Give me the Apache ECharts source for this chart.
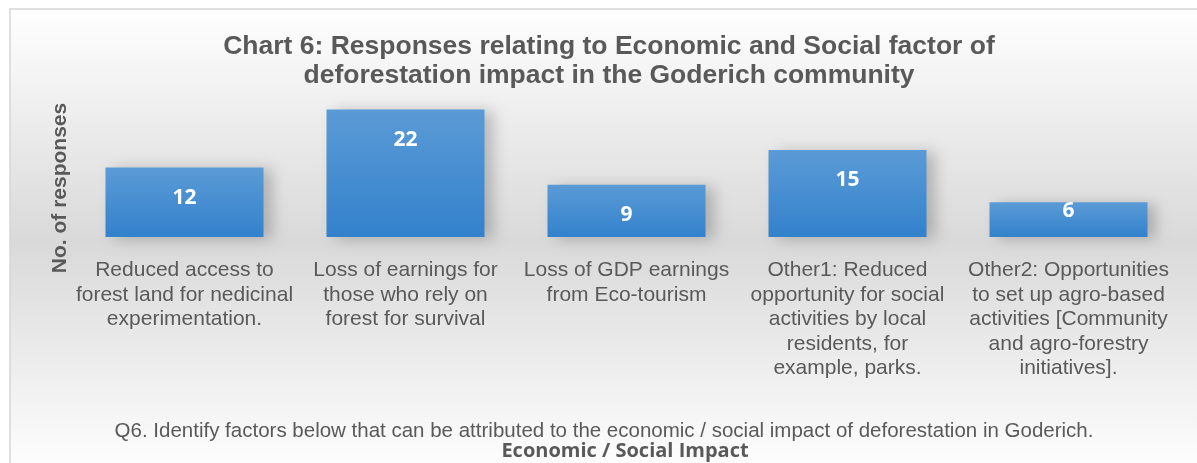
<!DOCTYPE html>
<html>
<head>
<meta charset="utf-8">
<script src="https://cdn.jsdelivr.net/npm/echarts@6/dist/echarts.min.js"></script>
<style>
html,body{margin:0;padding:0;background:#fff;}
#chart{width:1197px;height:463px;}
</style>
</head>
<body>
<div id="chart"></div>
<script>
// ---- data ----
var categoryLines = [
  ["Reduced access to", "forest land for nedicinal", "experimentation."],
  ["Loss of earnings for", "those who rely on", "forest for survival"],
  ["Loss of GDP earnings", "from Eco-tourism"],
  ["Other1: Reduced", "opportunity for social", "activities by local", "residents, for", "example, parks."],
  ["Other2: Opportunities", "to set up agro-based", "activities [Community", "and agro-forestry", "initiatives]."]
];
var responses = [12, 22, 9, 15, 6];
var titleLines = ["Chart 6: Responses relating to Economic and Social factor of",
                  "deforestation impact in the Goderich community"];
var yAxisTitle = "No. of responses";
var questionText = "Q6. Identify factors below that can be attributed to the economic / social impact of deforestation in Goderich.";
var xAxisTitle = "Economic / Social Impact";

var categories = categoryLines.map(function (l) { return l.join("\n"); });

var chart = echarts.init(document.getElementById('chart'), null, {renderer: 'canvas'});
var grey = '#595959';

var seriesData = responses.map(function (v, i) {
  var item = {value: v};
  if (i === 4) { item.label = {distance: -2}; }
  return item;
});

chart.setOption({
  animation: false,
  backgroundColor: '#ffffff',
  graphic: [
    {
      type: 'rect', z: -10, silent: true,
      shape: {x: 10, y: 9, width: 1195, height: 465},
      style: {
        fill: new echarts.graphic.LinearGradient(0, 0, 0, 1, [
          {offset: 0, color: '#ffffff'},
          {offset: 0.5, color: '#d9d9d9'},
          {offset: 1, color: '#ffffff'}
        ]),
        stroke: '#d6d6d6', lineWidth: 1.5
      }
    },
    {
      type: 'text', x: 609, y: 47, z: 10,
      style: {text: titleLines[0], fill: grey, font: 'bold 26.5px "Liberation Sans", Arial, sans-serif', align: 'center', verticalAlign: 'middle'}
    },
    {
      type: 'text', x: 609, y: 76, z: 10,
      style: {text: titleLines[1], fill: grey, font: 'bold 26.5px "Liberation Sans", Arial, sans-serif', align: 'center', verticalAlign: 'middle'}
    },
    {
      type: 'text', x: 60, y: 188, rotation: Math.PI / 2, z: 10,
      style: {text: yAxisTitle, fill: grey, font: 'bold 21px "Liberation Sans", Arial, sans-serif', align: 'center', verticalAlign: 'middle'}
    },
    {
      type: 'text', x: 604, y: 431, z: 10,
      style: {text: questionText, fill: grey, font: '20.5px "Liberation Sans", Arial, sans-serif', align: 'center', verticalAlign: 'middle'}
    },
    {
      type: 'text', x: 625, y: 451, z: 10,
      style: {text: xAxisTitle, fill: grey, font: 'bold 20px "Open Sans", sans-serif', align: 'center', verticalAlign: 'middle'}
    }
  ],
  grid: {left: 74, right: 18, top: 92, bottom: 226, containLabel: false},
  xAxis: {
    type: 'category',
    data: categories,
    axisLine: {show: false},
    axisTick: {show: false},
    axisLabel: {
      interval: 0,
      margin: 21,
      color: grey,
      fontFamily: '"Liberation Sans", Arial, sans-serif',
      fontSize: 21,
      lineHeight: 24.5,
      align: 'center',
      verticalAlign: 'top'
    }
  },
  yAxis: {
    type: 'value',
    min: 0, max: 25,
    axisLine: {show: false},
    axisTick: {show: false},
    axisLabel: {show: false},
    splitLine: {show: false}
  },
  series: [{
    type: 'bar',
    data: seriesData,
    barWidth: 158,
    itemStyle: {
      color: new echarts.graphic.LinearGradient(0, 0, 0, 1, [
        {offset: 0, color: '#5b9bd6'},
        {offset: 1, color: '#3381cc'}
      ]),
      shadowColor: 'rgba(0,0,0,0.22)',
      shadowBlur: 14,
      shadowOffsetX: 8,
      shadowOffsetY: 2
    },
    label: {
      show: true,
      position: 'insideTop',
      distance: 20,
      color: '#ffffff',
      fontFamily: '"Open Sans", sans-serif',
      fontWeight: 'bold',
      fontSize: 21
    }
  }]
});
</script>
</body>
</html>
